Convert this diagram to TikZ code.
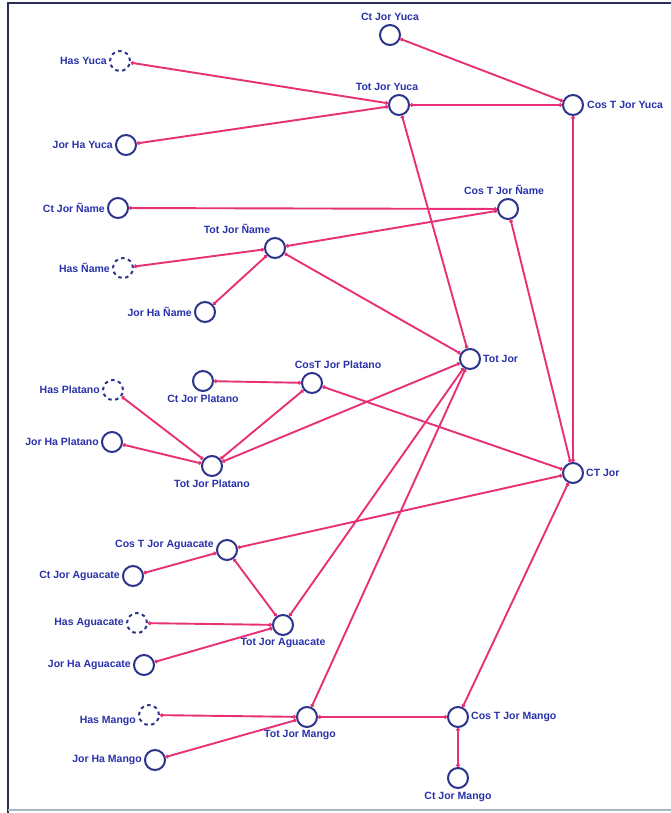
\documentclass[tikz,border=0pt]{standalone}
\usepackage{fontspec}
\setmainfont{Liberation Sans}
\usetikzlibrary{arrows.meta}
\definecolor{lnk}{RGB}{232,48,118}
\definecolor{nvy}{RGB}{44,52,140}
\definecolor{txt}{RGB}{40,50,170}
\definecolor{frm}{RGB}{40,45,90}
\definecolor{frmb}{RGB}{170,185,200}
\tikzset{
  var/.style={circle,draw=nvy,line width=2pt,minimum size=20pt,inner sep=0pt,fill=white},
  src/.style={var,dash pattern=on 3.5pt off 3.5pt},
  lbl/.style={text=txt,font=\bfseries\fontsize{10.5}{12}\selectfont,inner sep=1pt},
  lk/.style={draw=lnk,line width=1.9pt,{Circle[length=3.5pt]}-{Circle[length=3.5pt]}},
}
\begin{document}
\begin{tikzpicture}[x=1pt,y=-1pt]
\useasboundingbox (0,0) rectangle (671,813);
\fill[white] (0,0) rectangle (671,813);
\draw[frm,line width=2pt] (8,813) -- (8,3) -- (671,3);
\draw[frmb,line width=1.5pt] (8,810) -- (671,810);

% Yuca
\node[var,label={[lbl,label distance=2pt]above:Ct Jor Yuca}] (ctyuca) at (390,35) {};
\node[src,label={[lbl,label distance=1pt]left:Has Yuca}] (hasyuca) at (120,61) {};
\node[var,label={[lbl,label distance=2pt,xshift=-12pt]above:Tot Jor Yuca}] (totyuca) at (399,105) {};
\node[var,label={[lbl,label distance=2pt]right:Cos T Jor Yuca}] (cosyuca) at (573,105) {};
\node[var,label={[lbl,label distance=1pt]left:Jor Ha Yuca}] (jhyuca) at (126,145) {};
% Name
\node[var,label={[lbl,label distance=1pt]left:Ct Jor Ñame}] (ctname) at (118,208) {};
\node[var,label={[lbl,label distance=2pt,xshift=-4pt]above:Cos T Jor Ñame}] (cosname) at (508,209) {};
\node[var,label={[lbl,label distance=2pt,xshift=-38pt]above:Tot Jor Ñame}] (totname) at (275,248) {};
\node[src,label={[lbl,label distance=1pt]left:Has Ñame}] (hasname) at (123,268) {};
\node[var,label={[lbl,label distance=1pt]left:Jor Ha Ñame}] (jhname) at (205,312) {};
% center
\node[var,label={[lbl,label distance=1pt]right:Tot Jor}] (totjor) at (470,359) {};
\node[var,label={[lbl,label distance=1pt]right:CT Jor}] (ctjor) at (573,473) {};
% Platano
\node[var,label={[lbl,label distance=2pt,xshift=26pt]above:CosT Jor Platano}] (cosplat) at (312,383) {};
\node[var,label={[lbl,label distance=2pt]below:Ct Jor Platano}] (ctplat) at (203,381) {};
\node[src,label={[lbl,label distance=1pt]left:Has Platano}] (hasplat) at (113,390) {};
\node[var,label={[lbl,label distance=1pt]left:Jor Ha Platano}] (jhplat) at (112,442) {};
\node[var,label={[lbl,label distance=2pt]below:Tot Jor Platano}] (totplat) at (212,466) {};
% Aguacate
\node[var,label={[lbl,label distance=1pt,yshift=5pt]left:Cos T Jor Aguacate}] (cosagu) at (227,550) {};
\node[var,label={[lbl,label distance=1pt]left:Ct Jor Aguacate}] (ctagu) at (133,576) {};
\node[src,label={[lbl,label distance=1pt]left:Has Aguacate}] (hasagu) at (137,623) {};
\node[var,label={[lbl,label distance=1pt]below:Tot Jor Aguacate}] (totagu) at (283,625) {};
\node[var,label={[lbl,label distance=1pt]left:Jor Ha Aguacate}] (jhagu) at (144,665) {};
% Mango
\node[src,label={[lbl,label distance=1pt,yshift=-6pt]left:Has Mango}] (hasman) at (149,715) {};
\node[var,label={[lbl,label distance=1pt,xshift=-7pt]below:Tot Jor Mango}] (totman) at (307,717) {};
\node[var,label={[lbl,label distance=1pt]left:Jor Ha Mango}] (jhman) at (155,760) {};
\node[var,label={[lbl,label distance=1pt]right:Cos T Jor Mango}] (cosman) at (458,717) {};
\node[var,label={[lbl,label distance=2pt]below:Ct Jor Mango}] (ctman) at (458,778) {};

% links
\path[lk] (ctyuca) -- (cosyuca);
\path[lk] (hasyuca) -- (totyuca);
\path[lk] (jhyuca) -- (totyuca);
\path[lk] (totyuca) -- (cosyuca);
\path[lk] (totyuca) -- (totjor);
\path[lk] (cosyuca) -- (ctjor);
\path[lk] (ctname) -- (cosname);
\path[lk] (totname) -- (cosname);
\path[lk] (hasname) -- (totname);
\path[lk] (jhname) -- (totname);
\path[lk] (totname) -- (totjor);
\path[lk] (cosname) -- (ctjor);
\path[lk] (ctplat) -- (cosplat);
\path[lk] (totplat) -- (cosplat);
\path[lk] (hasplat) -- (totplat);
\path[lk] (jhplat) -- (totplat);
\path[lk] (totplat) -- (totjor);
\path[lk] (cosplat) -- (ctjor);
\path[lk] (cosagu) -- (ctjor);
\path[lk] (ctagu) -- (cosagu);
\path[lk] (cosagu) -- (totagu);
\path[lk] (hasagu) -- (totagu);
\path[lk] (jhagu) -- (totagu);
\path[lk] (totagu) -- (totjor);
\path[lk] (totman) -- (totjor);
\path[lk] (hasman) -- (totman);
\path[lk] (jhman) -- (totman);
\path[lk] (totman) -- (cosman);
\path[lk] (cosman) -- (ctjor);
\path[lk] (ctman) -- (cosman);
\end{tikzpicture}
\end{document}
